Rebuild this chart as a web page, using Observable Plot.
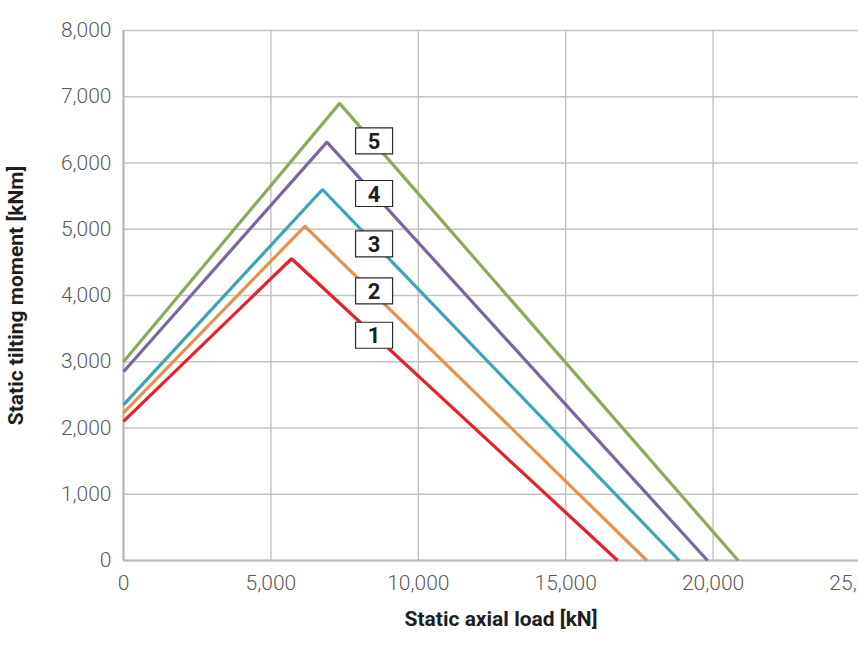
<!DOCTYPE html>
<html>
<head>
<meta charset="utf-8">
<script src="https://cdn.jsdelivr.net/npm/d3@7"></script>
<script src="https://cdn.jsdelivr.net/npm/@observablehq/plot@0.6"></script>
<style>
  html, body { margin: 0; padding: 0; background: #fff; overflow: hidden; }
  #chart { width: 858px; height: 654px; }
</style>
</head>
<body>
<div id="chart"></div>
<script>
// ---- data ----
const seriesNames = ["1", "2", "3", "4", "5"];
const startMoment = [2100, 2230, 2350, 2850, 3000];   // kNm at axial load 0
const peakLoad    = [5700, 6150, 6750, 6900, 7330];   // kN
const peakMoment  = [4555, 5045, 5600, 6315, 6900];   // kNm
const endLoad     = [16760, 17750, 18850, 19810, 20850]; // kN at moment 0
const seriesColors = ["#e8202a", "#e8914a", "#3aa5b8", "#7b65a5", "#8aab5b"];

const labelLoad   = [8500, 8500, 8500, 8500, 8500];
const labelMoment = [3400, 4070, 4780, 5540, 6335];

const xTicks = [0, 5000, 10000, 15000, 20000, 25000];
const yTicks = [0, 1000, 2000, 3000, 4000, 5000, 6000, 7000, 8000];

const xTitle = "Static axial load [kN]";
const yTitle = "Static tilting moment [kNm]";

// ---- build tables ----
const lineRows = [];
seriesNames.forEach((s, i) => {
  lineRows.push({series: s, load: 0, moment: startMoment[i]});
  lineRows.push({series: s, load: peakLoad[i], moment: peakMoment[i]});
  lineRows.push({series: s, load: endLoad[i], moment: 0});
});
const labelRows = seriesNames.map((s, i) => ({series: s, load: labelLoad[i], moment: labelMoment[i]}));

const boxSymbol = {
  draw(context) { context.rect(-18.5, -13, 37, 26); }
};

const gridColor = "#c4c4c4";
const tickFont = "Roboto, 'Liberation Sans', sans-serif";

const chart = Plot.plot({
  width: 858,
  height: 654,
  marginLeft: 123,
  marginTop: 30,
  marginBottom: 94,
  marginRight: -2,
  style: {fontFamily: tickFont, background: "white", overflow: "visible"},
  x: {domain: [0, 25000], ticks: xTicks, label: null},
  y: {domain: [0, 8000], ticks: yTicks, label: null},
  color: {domain: seriesNames, range: seriesColors},
  marks: [
    Plot.gridX(xTicks, {stroke: gridColor, strokeOpacity: 1, strokeWidth: 1.5}),
    Plot.gridY(yTicks, {stroke: gridColor, strokeOpacity: 1, strokeWidth: 1.5}),
    Plot.ruleX([0], {stroke: "#b9b9b9", strokeWidth: 2.2}),
    Plot.ruleY([0], {stroke: "#b9b9b9", strokeWidth: 2.2}),
    Plot.axisX(xTicks, {
      tickSize: 0, tickPadding: 15, tickFormat: d3.format(","),
      fontSize: 21, fontWeight: 300, fill: "#5a5a5a", label: null
    }),
    Plot.axisY(yTicks, {
      tickSize: 0, tickPadding: 12, tickFormat: d3.format(","),
      fontSize: 21, fontWeight: 300, fill: "#5a5a5a", label: null
    }),
    Plot.line(lineRows, {
      x: "load", y: "moment", z: "series", stroke: "series",
      strokeWidth: 3.2, strokeLinejoin: "miter", strokeLinecap: "butt"
    }),
    Plot.dot(labelRows, {
      x: "load", y: "moment", symbol: boxSymbol,
      fill: "white", stroke: "#2a2a2a", strokeWidth: 1.2
    }),
    Plot.text(labelRows, {
      x: "load", y: "moment", text: "series",
      fontSize: 22, fontWeight: "bold", fill: "#1e1e1e", dy: 1
    }),
    Plot.text([xTitle], {
      frameAnchor: "bottom", dy: 65, dx: 9, textAnchor: "middle",
      fontSize: 21, fontWeight: "bold", fill: "#1e1e1e"
    }),
    Plot.text([yTitle], {
      frameAnchor: "left", rotate: -90, dx: -107, dy: 0, textAnchor: "middle",
      fontSize: 21, fontWeight: "bold", fill: "#1e1e1e"
    })
  ]
});

document.getElementById("chart").appendChild(chart);
</script>
</body>
</html>
